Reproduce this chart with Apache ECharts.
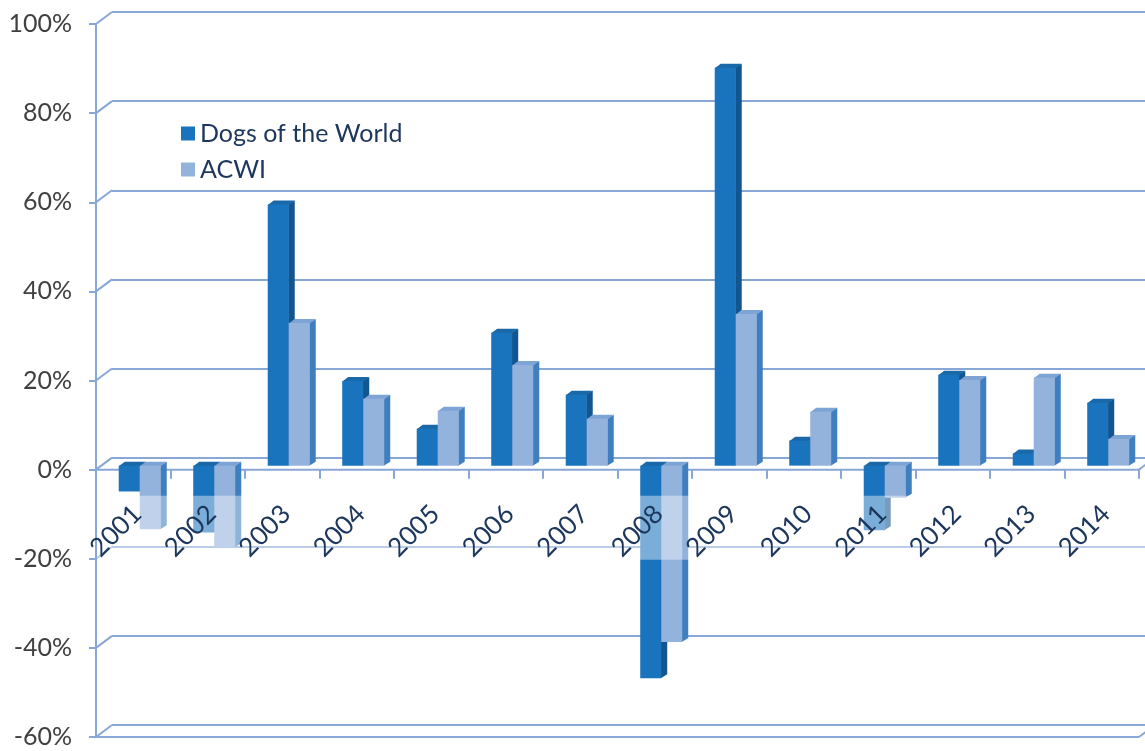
<!DOCTYPE html>
<html>
<head>
<meta charset="utf-8">
<script src="https://cdn.jsdelivr.net/npm/echarts@6/dist/echarts.min.js"></script>
<style>
  html, body { margin: 0; padding: 0; background: #ffffff; }
  #chart { width: 1145px; height: 751px; }
</style>
</head>
<body>
<div id="chart"></div>
<script>
// Annual returns, in percent
const years = ['2001', '2002', '2003', '2004', '2005', '2006', '2007',
               '2008', '2009', '2010', '2011', '2012', '2013', '2014'];
const dogsOfTheWorld = [-5.8, -15.0, 58.6, 19.0, 8.3, 29.8, 15.9,
                        -47.7, 89.3, 5.6, -14.5, 20.4, 2.7, 14.1];
const acwi = [-14.3, -18.3, 32.0, 15.0, 12.3, 22.6, 10.5,
              -39.6, 34.0, 12.1, -7.2, 19.2, 19.7, 6.0];
const yTicks = [-60, -40, -20, 0, 20, 40, 60, 80, 100];

const LINE = '#88a7d7';
const TEXT_NAVY = '#1c365c';
const WALL_X = 16, WALL_Y = 12;   // back wall offset (oblique depth)
const DEPTH_X = 6, DEPTH_Y = 4;   // column depth
const LIFT = 4;                   // columns stand slightly behind the front edge

const DOGS_COLORS = { front: '#1a74bd', side: '#13558f', top: '#1b68a8' };
const ACWI_COLORS = { front: '#93b2dc', side: '#3f7fc0', top: '#7ea4d6' };

// 3-D looking column: front face, right side face and top face
function columnRenderer(shift, colors) {
  return function (params, api) {
    const i = api.value(0);
    const v = api.value(1);
    const band = api.size([1, 0])[0];
    const base = api.coord([i, 0]);
    const end = api.coord([i, v]);
    const w = band * 0.282;
    const x0 = base[0] + band * shift;
    const x1 = x0 + w;
    const yb = base[1] - LIFT;
    const yv = end[1] - LIFT;
    const top = Math.min(yb, yv);
    const bottom = Math.max(yb, yv);
    return {
      type: 'group',
      children: [
        { type: 'polygon',
          shape: { points: [[x1 - 0.5, top], [x1 + DEPTH_X, top - DEPTH_Y],
                            [x1 + DEPTH_X, bottom - DEPTH_Y], [x1 - 0.5, bottom]] },
          style: { fill: colors.side } },
        { type: 'polygon',
          shape: { points: [[x0, top + 0.5], [x0 + DEPTH_X, top - DEPTH_Y],
                            [x1 + DEPTH_X, top - DEPTH_Y], [x1, top + 0.5]] },
          style: { fill: colors.top } },
        { type: 'rect',
          shape: { x: x0, y: top, width: w, height: bottom - top },
          style: { fill: colors.front } }
      ]
    };
  };
}

// Front edges (floor at 0 and at the axis minimum) and the oblique
// connectors between the front axis and the back wall
function frameRenderer(params, api) {
  const cs = params.coordSys;
  const t = api.value(1);
  const y = api.coord([0, t])[1];
  const stroke = { stroke: LINE, lineWidth: 2 };
  const children = [
    { type: 'line', shape: { x1: cs.x, y1: y, x2: cs.x + WALL_X, y2: y - WALL_Y }, style: stroke }
  ];
  if (t === yTicks[0] || t === 0) {
    children.push({ type: 'line',
      shape: { x1: cs.x, y1: y, x2: cs.x + cs.width, y2: y }, style: stroke });
    children.push({ type: 'line',
      shape: { x1: cs.x + cs.width, y1: y, x2: cs.x + cs.width + WALL_X, y2: y - WALL_Y }, style: stroke });
  }
  return { type: 'group', children: children };
}

// Pale floor band under the category labels
function bandRenderer(params, api) {
  const cs = params.coordSys;
  const zero = api.coord([0, 0])[1];
  return {
    type: 'rect',
    shape: { x: cs.x + 1, y: zero + 26, width: cs.width + WALL_X, height: 64 },
    style: { fill: 'rgba(255,255,255,0.42)' }
  };
}

// Slanted year labels hanging below the zero line
function yearLabelRenderer(params, api) {
  const i = api.value(0);
  const p = api.coord([i, 0]);
  return {
    type: 'text',
    x: p[0] + 4,
    y: p[1] + 40,
    rotation: Math.PI / 4,
    style: {
      text: years[i],
      fill: TEXT_NAVY,
      fontFamily: 'Lato',
      fontSize: 26,
      align: 'right',
      verticalAlign: 'middle'
    }
  };
}

const chart = echarts.init(document.getElementById('chart'));
chart.setOption({
  animation: false,
  backgroundColor: '#ffffff',
  grid: [
    { left: 96, right: 6, top: 24, bottom: 14, containLabel: false, outerBoundsMode: 'none' },
    { left: 96 + WALL_X, width: 1100, top: 24 - WALL_Y, bottom: 14 + WALL_Y,
      containLabel: false, outerBoundsMode: 'none' }
  ],
  legend: {
    data: [{ name: 'Dogs of the World', icon: 'rect' }, { name: 'ACWI', icon: 'rect' }],
    orient: 'vertical',
    left: 176,
    top: 116,
    itemWidth: 14,
    itemHeight: 14,
    itemGap: 11,
    textStyle: { fontFamily: 'Lato', fontSize: 25, color: TEXT_NAVY, lineHeight: 24 }
  },
  xAxis: [
    { gridIndex: 0, type: 'category', data: years, z: 6,
      axisLine: { show: true, onZero: true, lineStyle: { color: 'rgba(0,0,0,0)', width: 2 } },
      axisTick: { show: true, length: 9, lineStyle: { color: LINE, width: 2 } },
      axisLabel: { show: false },
      splitLine: { show: false } },
    { gridIndex: 1, type: 'category', data: years, show: false }
  ],
  yAxis: [
    { gridIndex: 0, type: 'value', min: -60, max: 100, interval: 20,
      axisLine: { show: true, lineStyle: { color: LINE, width: 2 } },
      axisTick: { show: true, length: 7, lineStyle: { color: LINE, width: 2 } },
      axisLabel: { formatter: '{value}%', margin: 24,
                   fontFamily: 'Lato', fontSize: 25, color: '#404040' },
      splitLine: { show: false } },
    { gridIndex: 1, type: 'value', min: -60, max: 100, interval: 20,
      axisLine: { show: false }, axisTick: { show: false }, axisLabel: { show: false },
      splitLine: { show: true, lineStyle: { color: LINE, width: 2 } } }
  ],
  series: [
    { name: 'frame', type: 'custom', xAxisIndex: 0, yAxisIndex: 0, z: 1, silent: true,
      renderItem: frameRenderer,
      data: yTicks.map(function (t) { return [0, t]; }) },
    { name: 'Dogs of the World', type: 'custom', xAxisIndex: 0, yAxisIndex: 0, z: 2,
      itemStyle: { color: DOGS_COLORS.front },
      renderItem: columnRenderer(-0.195, DOGS_COLORS),
      encode: { x: 0, y: 1 },
      data: dogsOfTheWorld.map(function (v, i) { return [i, v]; }) },
    { name: 'ACWI', type: 'custom', xAxisIndex: 0, yAxisIndex: 0, z: 3,
      itemStyle: { color: ACWI_COLORS.front },
      renderItem: columnRenderer(0.087, ACWI_COLORS),
      encode: { x: 0, y: 1 },
      data: acwi.map(function (v, i) { return [i, v]; }) },
    { name: 'band', type: 'custom', xAxisIndex: 0, yAxisIndex: 0, z: 4, silent: true,
      renderItem: bandRenderer,
      data: [[0, 0]] },
    { name: 'years', type: 'custom', xAxisIndex: 0, yAxisIndex: 0, z: 7, silent: true,
      renderItem: yearLabelRenderer,
      data: years.map(function (y, i) { return [i, 0]; }) }
  ]
});
</script>
</body>
</html>
